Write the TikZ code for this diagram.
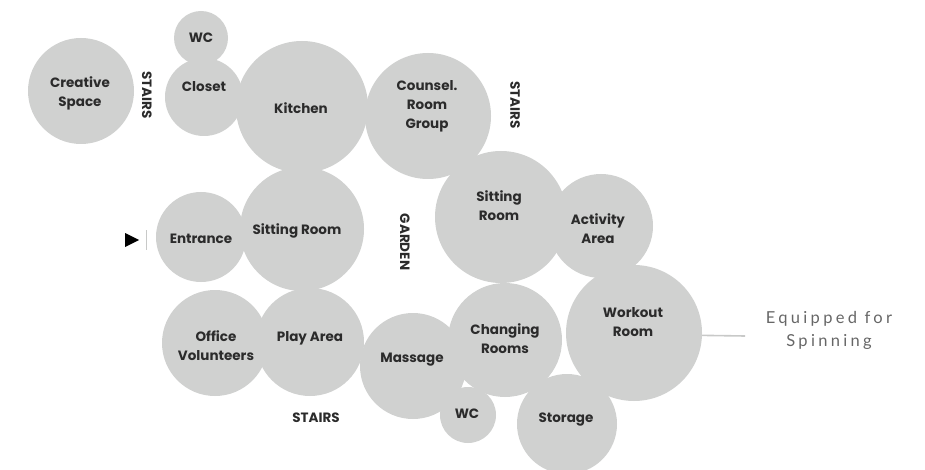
\documentclass[tikz,border=0pt]{standalone}
\usepackage{fontspec}
\setmainfont{Poppins}
\newfontfamily\annfont[LetterSpace=20]{Lato}
\definecolor{roomfill}{HTML}{D0D1D0}
\definecolor{roomtext}{HTML}{2B2B2B}
\definecolor{anncol}{HTML}{666666}
\definecolor{annline}{HTML}{C8C9C8}
\begin{document}
\begin{tikzpicture}[x=1pt,y=-1pt,
  room/.style={circle,fill=roomfill,inner sep=0pt,minimum size=#1},
  lbl/.style={text=roomtext,font=\fontsize{13.5}{19}\selectfont\bfseries,align=center,inner sep=0pt},
  vlbl/.style={lbl,rotate=-90},
  annlbl/.style={text=anncol,font=\fontsize{16.5}{23}\selectfont\annfont,align=center,inner sep=0pt},
  conn/.style={draw=annline,line width=1.6pt}]
\useasboundingbox (0,0) rectangle (925,470);
% circles
\node[room=106pt] (creative) at (81,91) {};
\node[room=54pt] (wctop) at (201,38) {};
\node[room=78pt] (closet) at (204,97) {};
\node[room=132pt] (kitchen) at (302,107) {};
\node[room=126pt] (counsel) at (428,116) {};
\node[room=90pt] (entrance) at (201,237) {};
\node[room=124pt] (sitleft) at (302,229) {};
\node[room=132pt] (sitright) at (501,217) {};
\node[room=104pt] (activity) at (601,226) {};
\node[room=106pt] (office) at (215,343) {};
\node[room=108pt] (play) at (310,342) {};
\node[room=106pt] (massage) at (413,366) {};
\node[room=114pt] (changing) at (505,340) {};
\node[room=56pt] (wcbot) at (468,415) {};
\node[room=100pt] (storage) at (567,424) {};
\node[room=136pt] (workout) at (634,333) {};
% labels
\node[lbl] (tcreative) at (80,93) {Creative\\Space};
\node[lbl] (twctop) at (201,38) {WC};
\node[lbl] (tcloset) at (204,87) {Closet};
\node[lbl] (tkitchen) at (301,108) {Kitchen};
\node[lbl] (tcounsel) at (427,106) {Counsel.\\Room\\Group};
\node[vlbl] (stairs1) at (147,95) {STAIRS};
\node[vlbl] (stairs2) at (515,105) {STAIRS};
\node[vlbl] (garden) at (405,242) {GARDEN};
\node[lbl] (tentrance) at (201,239) {Entrance};
\node[lbl] (tsitleft) at (297,231) {Sitting Room};
\node[lbl] (tsitright) at (499,206) {Sitting\\Room};
\node[lbl] (tactivity) at (598,229) {Activity\\Area};
\node[lbl] (toffice) at (216,346) {Office\\Volunteers};
\node[lbl] (tplay) at (310,338) {Play Area};
\node[lbl] (tmassage) at (412,360) {Massage};
\node[lbl] (tchanging) at (505,339) {Changing\\Rooms};
\node[lbl] (twcbot) at (467,414) {WC};
\node[lbl] (tstorage) at (566,420) {Storage};
\node[lbl] (tworkout) at (633,322) {Workout\\Room};
\node[lbl] (stairs3) at (316,418) {STAIRS};
% entrance marker
\fill[black] (125,233) -- (139,240) -- (125,247) -- cycle;
\draw[annline,line width=1pt] (146,230) -- (146,250);
% annotation
\node[annlbl] (ann) at (829,330) {Equipped for\\Spinning};
\coordinate (annend) at (745,336);
\draw[conn] (workout.-2.5) -- (annend);
\end{tikzpicture}
\end{document}
